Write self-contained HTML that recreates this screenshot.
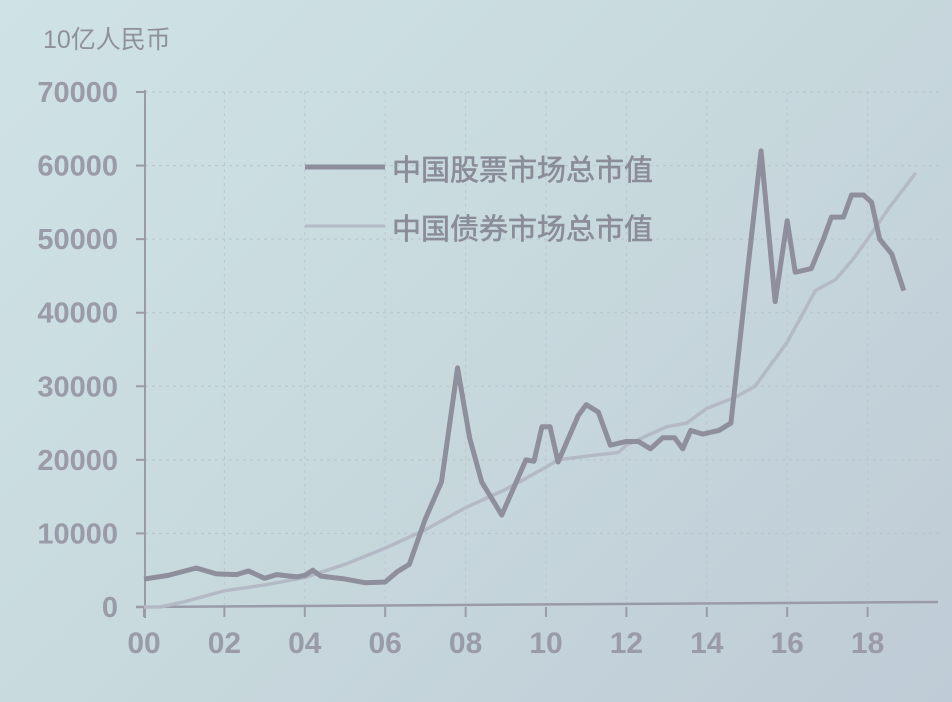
<!DOCTYPE html>
<html><head><meta charset="utf-8"><style>
html,body{margin:0;padding:0;width:952px;height:702px;background:#c6d4da;}
body{overflow:hidden;background:linear-gradient(135deg,#cfe2e5 0%,#c8dade 45%,#bfcbd6 100%);font-family:"Liberation Sans","Noto Sans CJK SC",sans-serif;}
svg{display:block;}
svg text{font-family:"Liberation Sans","Noto Sans CJK SC",sans-serif;}
</style></head><body>
<svg id="chart" width="952" height="702" viewBox="0 0 952 702" xmlns="http://www.w3.org/2000/svg">
<text x="43" y="48" font-size="25" fill="#8e909c">10亿人民币</text>
<g id="grid"></g>
<g id="axes"></g>
<g id="series"></g>
<g>
<g>
<line x1="305" y1="167" x2="385" y2="167" stroke="#8e8e9c" stroke-width="5"/>
<text x="392" y="180" font-size="29" fill="#8a8c99" stroke="#8a8c99" stroke-width="0.6">中国股票市场总市值</text></g>
<g>
<line x1="305" y1="226" x2="385" y2="226" stroke="#b3bac6" stroke-width="3"/>
<text x="392" y="239" font-size="29" fill="#8a8c99" stroke="#8a8c99" stroke-width="0.6">中国债券市场总市值</text></g>
</g>
</svg>
<script>
const yTicks=[0,10000,20000,30000,40000,50000,60000,70000];
const xTickYears=[2000,2002,2004,2006,2008,2010,2012,2014,2016,2018];
const xTickLabels=["00","02","04","06","08","10","12","14","16","18"];
const stockYears=[2000,2000.6,2001.3,2001.8,2002.3,2002.6,2003,2003.3,2003.8,2004,2004.2,2004.4,2005,2005.5,2006,2006.3,2006.6,2007,2007.4,2007.8,2008.1,2008.4,2008.9,2009.5,2009.7,2009.9,2010.1,2010.3,2010.8,2011,2011.3,2011.6,2012,2012.3,2012.6,2012.9,2013.2,2013.4,2013.6,2013.9,2014.3,2014.6,2015,2015.35,2015.7,2016,2016.2,2016.6,2016.9,2017.1,2017.4,2017.6,2017.9,2018.1,2018.3,2018.6,2018.9];
const stockValues=[3800,4300,5300,4500,4400,4900,3900,4400,4100,4300,5000,4200,3800,3300,3400,4800,5800,12000,17000,32500,23000,17000,12500,20000,19800,24500,24500,19700,26000,27500,26500,22000,22500,22500,21500,23000,23000,21500,24000,23500,24000,25000,45000,62000,41500,52500,45500,46000,50000,53000,53000,56000,56000,55000,50000,48000,43000];
const bondYears=[2000,2000.4,2001,2002,2003,2004,2005,2006,2007,2008,2009,2010,2010.3,2011,2011.8,2012,2013,2013.5,2014,2014.7,2015.2,2016,2016.7,2017.2,2017.6,2018,2018.5,2019.2];
const bondValues=[0,0,700,2200,3000,4000,5800,8000,10500,13500,16000,19000,20000,20500,21000,22000,24500,25000,27000,28500,30000,36000,43000,44500,47000,50000,54000,59000];
const NS="http://www.w3.org/2000/svg";
const x=yr=>144+(yr-2000)*40.2;
const y=v=>607-v*(515/70000);
function mk(tag,attrs,parent){const e=document.createElementNS(NS,tag);for(const k in attrs)e.setAttribute(k,attrs[k]);parent.appendChild(e);return e;}
const grid=document.getElementById('grid'),axes=document.getElementById('axes'),series=document.getElementById('series');
yTicks.forEach(t=>{
  if(t>0){const g=mk('line',{x1:145,y1:y(t),x2:940,y2:y(t),stroke:'#b8c4cc','stroke-width':1,'stroke-dasharray':'3 4'},grid);
  
  }
  const tk=mk('line',{x1:136,y1:y(t),x2:145,y2:y(t),stroke:'#9a9ba8','stroke-width':2},axes);
  
  
  const lb=mk('text',{x:118,y:y(t)+10,'font-size':29,'font-weight':'bold','fill':'#9a9ba8','text-anchor':'end'},axes);
  lb.textContent=String(t);
  
  
});
xTickYears.forEach((yr,i)=>{
  if(i>0){const g=mk('line',{x1:x(yr),y1:92,x2:x(yr),y2:607,stroke:'#bcc7cf','stroke-width':1,'stroke-dasharray':'3 4'},grid);
  
  }
  const tk=mk('line',{x1:x(yr),y1:607,x2:x(yr),y2:617,stroke:'#9a9ba8','stroke-width':2},axes);
  
  
  const lb=mk('text',{x:x(yr),y:653,'font-size':30,'font-weight':'bold','fill':'#9a9ba8','text-anchor':'middle'},axes);
  lb.textContent=xTickLabels[i];
  
  
});
const ya=mk('line',{x1:145,y1:90,x2:145,y2:618,stroke:'#9a9ba8','stroke-width':2},axes);


const xa=mk('line',{x1:136,y1:607,x2:938,y2:602,stroke:'#9a9ba8','stroke-width':2.5},axes);


const bp=mk('polyline',{points:bondYears.map((yr,i)=>x(yr)+','+y(bondValues[i])).join(' '),fill:'none',stroke:'#b3bac6','stroke-width':3.5,'stroke-linejoin':'round'},series);


const sp=mk('polyline',{points:stockYears.map((yr,i)=>x(yr)+','+y(stockValues[i])).join(' '),fill:'none',stroke:'#8e8e9c','stroke-width':5,'stroke-linejoin':'round'},series);


</script>
</body></html>
